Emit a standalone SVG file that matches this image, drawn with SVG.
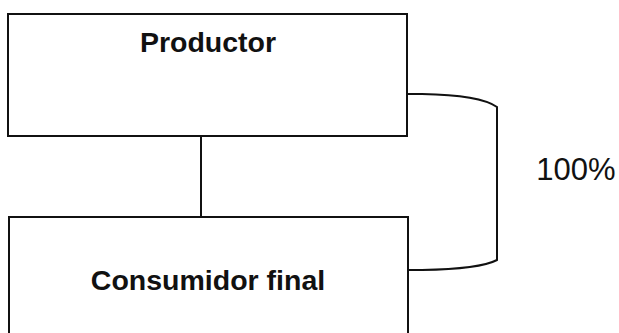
<svg xmlns="http://www.w3.org/2000/svg" width="619" height="333" viewBox="0 0 619 333">
<style>
.box{fill:#fff;stroke:#111;stroke-width:2}
.conn{fill:none;stroke:#111;stroke-width:2}
.lbl{font-family:"Liberation Sans",Arial,sans-serif;font-weight:bold;font-size:28.5px;fill:#111;text-anchor:middle}
.pct{font-family:"Liberation Sans",Arial,sans-serif;font-size:31px;fill:#111;text-anchor:middle}
</style>
<rect width="619" height="333" fill="#fff"/>
<g id="connectors">
<line class="conn" x1="201" y1="136" x2="201" y2="217"/>
<path class="conn" d="M407 94 L422 94 Q480 95 497 107 L497 260 Q480 269 422 270 L408 270"/>
</g>
<g id="productor">
<rect class="box" x="8" y="14" width="399" height="122"/>
<text class="lbl" x="208" y="52">Productor</text>
</g>
<g id="consumidor">
<rect class="box" x="9" y="217" width="399" height="130"/>
<text class="lbl" x="208" y="290">Consumidor final</text>
</g>
<g id="label100">
<text class="pct" x="576" y="180">100%</text>
</g>
</svg>
